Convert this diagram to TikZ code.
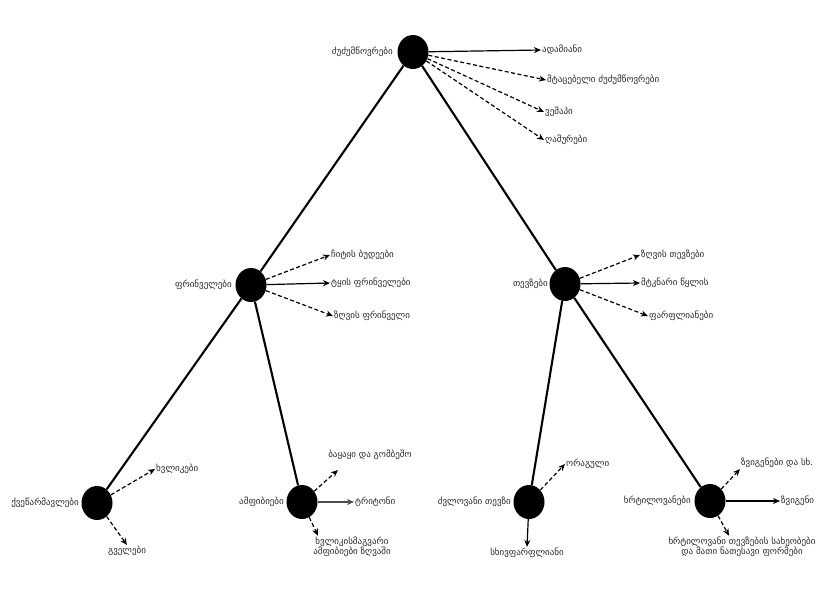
\documentclass[tikz,border=0pt]{standalone}
\usepackage{fontspec}
\newfontfamily\geo{DejaVu Sans}
\usetikzlibrary{arrows.meta}
\tikzset{
  dot/.style={ellipse,fill=black,minimum width=31pt,minimum height=34pt,inner sep=0pt},
  lbl/.style={font=\geo\fontsize{9}{10.5}\selectfont,inner sep=1pt,text=black!85},
  edge/.style={line width=2.1pt},
  sarr/.style={line width=1.2pt,-{Stealth[length=7pt,width=6pt]}},
  darr/.style={sarr,dash pattern=on 4pt off 2.5pt},
}
\usetikzlibrary{shapes.geometric}
\begin{document}
\begin{tikzpicture}[x=1pt,y=-1pt]
\useasboundingbox (0,0) rectangle (830,590);
% main nodes
\node[dot] (r) at (413,52) {};
\node[dot] (m1) at (251,285) {};
\node[dot] (m2) at (565,284) {};
\node[dot] (b1) at (97,503) {};
\node[dot] (b2) at (302,502) {};
\node[dot] (b3) at (529,502) {};
\node[dot] (b4) at (710,501) {};
% tree edges
\draw[edge] (r) -- (m1);
\draw[edge] (r) -- (m2);
\draw[edge] (m1) -- (b1);
\draw[edge] (m1) -- (b2);
\draw[edge] (m2) -- (b3);
\draw[edge] (m2) -- (b4);
% node names
\node[lbl,anchor=east] (rl) at (394,52) {ძუძუმწოვრები};
\node[lbl,anchor=east] (m1l) at (233,285) {ფრინველები};
\node[lbl,anchor=east] (m2l) at (549,284) {თევზები};
\node[lbl,anchor=east] (b1l) at (80,503) {ქვეწარმავლები};
\node[lbl,anchor=east] (b2l) at (285,502) {ამფიბიები};
\node[lbl,anchor=east] (b3l) at (512,502) {ძვლოვანი თევზი};
\node[lbl,anchor=east] (b4l) at (692,501) {ხრტილოვანები};
% root features
\node[lbl,anchor=west] (ra) at (541,50) {ადამიანი};
\node[lbl,anchor=west] (rb) at (546,80) {მტაცებელი ძუძუმწოვრები};
\node[lbl,anchor=west] (rc) at (544,112) {ვეშაპი};
\node[lbl,anchor=west] (rd) at (544,140) {ღამურები};
\draw[sarr] (r) -- (ra.west);
\draw[darr] (r) -- (rb.west);
\draw[darr] (r) -- (rc.west);
\draw[darr] (r) -- (rd.west);
% left middle features
\node[lbl,anchor=west] (m1a) at (330,255) {ჩიტის ბუდეები};
\node[lbl,anchor=west] (m1b) at (330,283) {ტყის ფრინველები};
\node[lbl,anchor=west] (m1c) at (333,316) {ზღვის ფრინველი};
\draw[darr] (m1) -- (m1a.west);
\draw[sarr] (m1) -- (m1b.west);
\draw[darr] (m1) -- (m1c.west);
% right middle features
\node[lbl,anchor=west] (m2a) at (640,255) {ზღვის თევზები};
\node[lbl,anchor=west] (m2b) at (640,283) {მტკნარი წყლის};
\node[lbl,anchor=west] (m2c) at (648,316) {ფარფლიანები};
\draw[darr] (m2) -- (m2a.west);
\draw[sarr] (m2) -- (m2b.west);
\draw[darr] (m2) -- (m2c.west);
% bottom left
\node[lbl,anchor=west] (b1a) at (155,469) {ხვლიკები};
\node[lbl] (b1b) at (127,551) {გველები};
\draw[darr] (b1) -- (b1a.west);
\draw[darr] (b1) -- (b1b.north);
% bottom second
\node[lbl] (b2a) at (370,455) {ბაყაყი და გომბეშო};
\node[lbl,anchor=west] (b2b) at (354,502) {ტრიტონი};
\node[lbl,align=center] (b2c) at (352,547) {ხვლიკისმაგვარი\\ამფიბიები ზღვაში};
\draw[darr] (b2) -- (338,470);
\draw[sarr,draw=black!70] (b2) -- (b2b.west);
\draw[darr] (b2) -- (b2c.north -| 318,0);
% bottom third
\node[lbl,anchor=west] (b3a) at (565,464) {ორაგული};
\node[lbl] (b3b) at (527,553) {სხივფარფლიანი};
\draw[darr] (b3) -- (b3a.west);
\draw[sarr] (b3) -- (b3b.north);
% bottom right
\node[lbl,anchor=west] (b4a) at (740,463) {ზვიგენები და სხ.};
\node[lbl,anchor=west] (b4b) at (780,501) {ზვიგენი};
\node[lbl,align=center] (b4c) at (742,547) {ხრტილოვანი თევზების სახეობები\\და მათი ნათესავი ფორმები};
\draw[darr] (b4) -- (b4a.south west);
\draw[sarr] (b4) -- (b4b.west);
\draw[darr] (b4) -- (b4c.north -| 729,0);
\end{tikzpicture}
\end{document}
